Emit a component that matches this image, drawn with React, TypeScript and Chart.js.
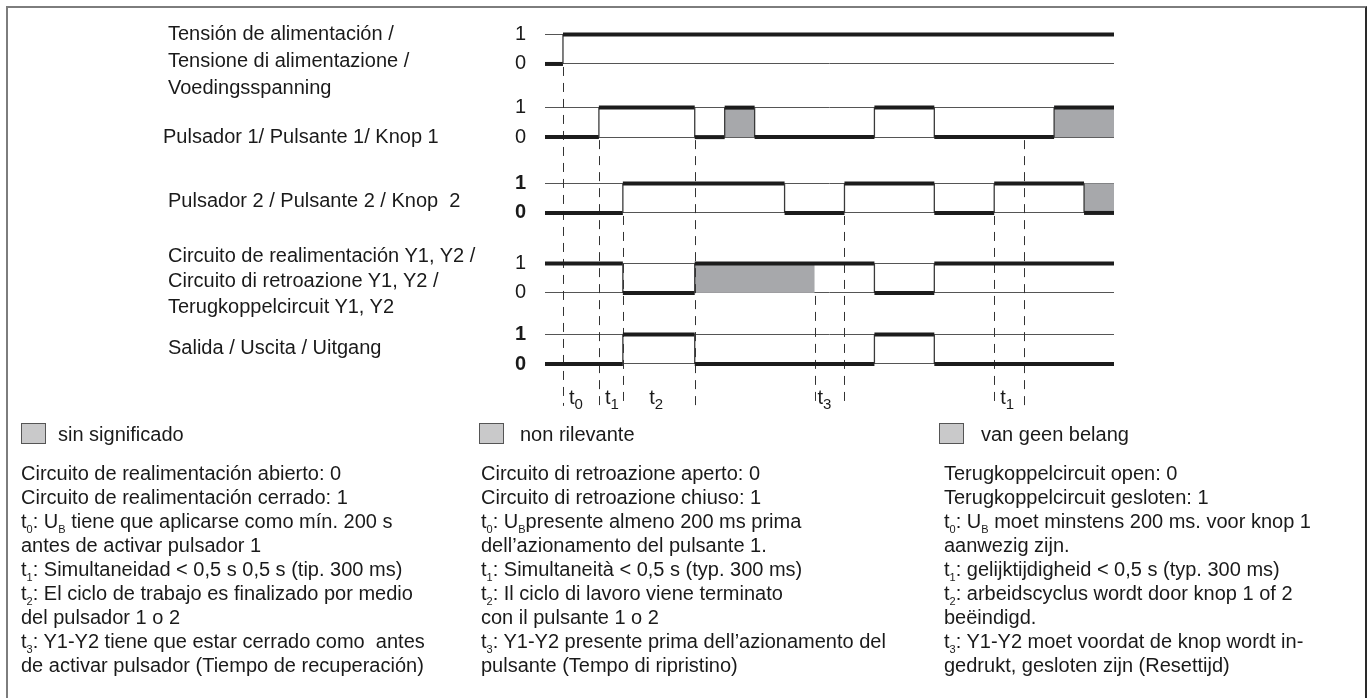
import React, { useEffect, useRef } from "react";
import { Chart, registerables } from "chart.js";

Chart.register(...registerables);

const FONT = '"Liberation Sans", Arial, Helvetica, sans-serif';

// ---- signal data (time in arbitrary units, level per interval) ----
const supplyTimes = [0, 3, 95];
const supplyLevels = [0, 1];
const pulsador1Times = [0, 9, 25, 30, 35, 55, 65, 85, 95];
const pulsador1Levels = [0, 1, 0, 1, 0, 1, 0, 1];
const pulsador2Times = [0, 13, 40, 50, 65, 75, 90, 95];
const pulsador2Levels = [0, 1, 0, 1, 0, 1, 0];
const feedbackTimes = [0, 13, 25, 55, 65, 95];
const feedbackLevels = [1, 0, 1, 0, 1];
const outputTimes = [0, 13, 25, 55, 65, 95];
const outputLevels = [0, 1, 0, 1, 0];

// "don't care" regions (row index, start, end)
const dontCareRows = [1, 1, 2, 3];
const dontCareStart = [30, 85, 90, 25];
const dontCareEnd = [35, 95, 95, 45];

// dashed time markers (time, row whose 0-level they start from)
const markerTimes = [3, 9, 13, 25, 45, 50, 75, 80];
const markerRows = [0, 1, 2, 1, 3, 2, 2, 1];

// interval labels t0..t3
const intervalSubs = ["0", "1", "2", "3", "1"];
const intervalLabelTimes = [4, 10, 17.4, 45.5, 76];

// level tick labels
const levelLabels = ["0", "1"];
const boldRows = [2, 4];

// ---- layout constants ----
const ROW_OFFSETS = [10.17, 7.69, 5.12, 2.41, 0];
const Y_MIN = -1.6;
const Y_MAX = 11.66;
const MARKER_BOTTOM = -1.42;
const LABEL_BASE = -1.36;

const signalLabels: { lines: string[]; left: number; top: number; lh: number }[] = [
  { lines: ["Tensión de alimentación /", "Tensione di alimentazione /", "Voedingsspanning"], left: 168, top: 19.5, lh: 27 },
  { lines: ["Pulsador 1/ Pulsante 1/ Knop 1"], left: 163, top: 122.5, lh: 27 },
  { lines: ["Pulsador 2 / Pulsante 2 / Knop  2"], left: 168, top: 186.5, lh: 27 },
  { lines: ["Circuito de realimentación Y1, Y2 /", "Circuito di retroazione Y1, Y2 /", "Terugkoppelcircuit Y1, Y2"], left: 168, top: 242.5, lh: 25.5 },
  { lines: ["Salida / Uscita / Uitgang"], left: 168, top: 333.5, lh: 27 },
];

const legendTexts = ["sin significado", "non rilevante", "van geen belang"];
const notesEs = [
  "Circuito de realimentación abierto: 0",
  "Circuito de realimentación cerrado: 1",
  "t_{0}: U_{B} tiene que aplicarse como mín. 200 s",
  "antes de activar pulsador 1",
  "t_{1}: Simultaneidad < 0,5 s 0,5 s (tip. 300 ms)",
  "t_{2}: El ciclo de trabajo es finalizado por medio",
  "del pulsador 1 o 2",
  "t_{3}: Y1-Y2 tiene que estar cerrado como  antes",
  "de activar pulsador (Tiempo de recuperación)",
];
const notesIt = [
  "Circuito di retroazione aperto: 0",
  "Circuito di retroazione chiuso: 1",
  "t_{0}: U_{B}presente almeno 200 ms prima",
  "dell’azionamento del pulsante 1.",
  "t_{1}: Simultaneità < 0,5 s (typ. 300 ms)",
  "t_{2}: Il ciclo di lavoro viene terminato",
  "con il pulsante 1 o 2",
  "t_{3}: Y1-Y2 presente prima dell’azionamento del",
  "pulsante (Tempo di ripristino)",
];
const notesNl = [
  "Terugkoppelcircuit open: 0",
  "Terugkoppelcircuit gesloten: 1",
  "t_{0}: U_{B} moet minstens 200 ms. voor knop 1",
  "aanwezig zijn.",
  "t_{1}: gelijktijdigheid < 0,5 s (typ. 300 ms)",
  "t_{2}: arbeidscyclus wordt door knop 1 of 2",
  "beëindigd.",
  "t_{3}: Y1-Y2 moet voordat de knop wordt in-",
  "gedrukt, gesloten zijn (Resettijd)",
];

const columns = [
  { box: 21, legend: 58, notes: 21, lines: notesEs, legendText: legendTexts[0] },
  { box: 479, legend: 520, notes: 481, lines: notesIt, legendText: legendTexts[1] },
  { box: 939, legend: 981, notes: 944, lines: notesNl, legendText: legendTexts[2] },
];

function stepPoints(times: number[], levels: number[], row: number) {
  const pts: { x: number; y: number }[] = [];
  levels.forEach((lv, i) => {
    pts.push({ x: times[i], y: lv + ROW_OFFSETS[row] });
    pts.push({ x: times[i + 1], y: lv + ROW_OFFSETS[row] });
  });
  return pts;
}

function rich(s: string) {
  const parts = s.split(/(_\{[^}]*\})/);
  return parts.map((p, i) =>
    p.startsWith("_{") ? (
      <span key={i} style={{ fontSize: 11, position: "relative", top: 5, lineHeight: 0 }}>
        {p.slice(2, -1)}
      </span>
    ) : (
      <React.Fragment key={i}>{p}</React.Fragment>
    )
  );
}

const diagramPlugin = {
  id: "diagram",
  beforeDatasetsDraw(chart: any) {
    const { ctx } = chart;
    const x = chart.scales.x;
    const y = chart.scales.y;
    ctx.save();
    ctx.fillStyle = "#a7a8ab";
    dontCareRows.forEach((row, i) => {
      const x0 = x.getPixelForValue(dontCareStart[i]);
      const x1 = x.getPixelForValue(dontCareEnd[i]);
      const yTop = y.getPixelForValue(ROW_OFFSETS[row] + 1);
      const yBot = y.getPixelForValue(ROW_OFFSETS[row]);
      ctx.fillRect(x0, yTop, x1 - x0, yBot - yTop);
    });
    ctx.strokeStyle = "#333";
    ctx.lineWidth = 1;
    ctx.setLineDash([9, 7]);
    const yEnd = y.getPixelForValue(MARKER_BOTTOM);
    markerTimes.forEach((t, i) => {
      const px = Math.round(x.getPixelForValue(t)) + 0.5;
      ctx.beginPath();
      ctx.moveTo(px, y.getPixelForValue(ROW_OFFSETS[markerRows[i]]) + 3);
      ctx.lineTo(px, yEnd);
      ctx.stroke();
    });
    ctx.setLineDash([]);
    ctx.fillStyle = "#1a1a1a";
    ctx.textBaseline = "alphabetic";
    ctx.textAlign = "left";
    const base = y.getPixelForValue(LABEL_BASE);
    intervalSubs.forEach((sub, i) => {
      const px = x.getPixelForValue(intervalLabelTimes[i]);
      ctx.font = `20px ${FONT}`;
      ctx.fillText("t", px, base);
      const w = ctx.measureText("t").width;
      ctx.font = `15px ${FONT}`;
      ctx.fillText(sub, px + w, base + 5);
    });
    ctx.restore();
  },
};

export default function App() {
  const canvasRef = useRef<HTMLCanvasElement | null>(null);

  useEffect(() => {
    document.body.style.margin = "0";
    const canvas = canvasRef.current;
    if (!canvas) return;
    const rows = [
      [supplyTimes, supplyLevels],
      [pulsador1Times, pulsador1Levels],
      [pulsador2Times, pulsador2Levels],
      [feedbackTimes, feedbackLevels],
      [outputTimes, outputLevels],
    ];
    const datasets = rows.map(([t, l], r) => ({
      data: stepPoints(t as number[], l as number[], r),
      borderColor: "#1c1c1c",
      borderWidth: 4,
      pointRadius: 0,
      tension: 0,
      fill: false,
      clip: false as any,
      segment: {
        borderWidth: (c: any) => (c.p0.parsed.x === c.p1.parsed.x ? 1.3 : 4),
        borderColor: (c: any) => (c.p0.parsed.x === c.p1.parsed.x ? "#3a3a3a" : "#1c1c1c"),
      },
    }));
    const chart = new Chart(canvas, {
      type: "line",
      data: { datasets: datasets as any },
      plugins: [diagramPlugin as any],
      options: {
        animation: false,
        responsive: false,
        devicePixelRatio: 1,
        events: [],
        layout: { padding: { left: 505, right: 257, top: 20, bottom: 286.8 } },
        plugins: { legend: { display: false }, tooltip: { enabled: false } },
        scales: {
          x: { type: "linear", min: 0, max: 95, display: false },
          y: {
            type: "linear",
            min: Y_MIN,
            max: Y_MAX,
            border: { display: false },
            grid: { color: "#555", lineWidth: 1, drawTicks: false },
            afterBuildTicks: (scale: any) => {
              scale.ticks = ROW_OFFSETS.flatMap((o) => [{ value: o }, { value: o + 1 }]);
            },
            afterFit: (scale: any) => {
              scale.width = 40;
              scale.paddingTop = 0;
              scale.paddingBottom = 0;
            },
            ticks: {
              autoSkip: false,
              padding: 19,
              color: "#1a1a1a",
              callback: (_v: any, i: number) => levelLabels[i % 2],
              font: (c: any) => ({
                family: FONT,
                size: 20,
                weight: boldRows.includes(Math.floor(c.index / 2)) ? "bold" : "normal",
              }),
            },
          },
        },
      },
    });
    return () => chart.destroy();
  }, []);

  return (
    <div
      style={{
        position: "fixed",
        left: 0,
        top: 0,
        width: 1371,
        height: 698,
        overflow: "hidden",
        background: "#fff",
        fontFamily: FONT,
        color: "#1a1a1a",
      }}
    >
      <div
        style={{
          position: "absolute",
          left: 6,
          top: 6,
          width: 1357,
          height: 720,
          borderLeft: "2px solid #7d7d7d",
          borderTop: "2px solid #7d7d7d",
          borderRight: "2px solid #2a2a2a",
          borderBottom: "2px solid #7d7d7d",
        }}
      />
      <canvas ref={canvasRef} width={1371} height={698} style={{ position: "absolute", left: 0, top: 0 }} />
      {signalLabels.map((s, i) => (
        <div
          key={i}
          style={{ position: "absolute", left: s.left, top: s.top, fontSize: 20, lineHeight: `${s.lh}px`, whiteSpace: "pre" }}
        >
          {s.lines.map((l, j) => (
            <div key={j}>{l}</div>
          ))}
        </div>
      ))}
      {columns.map((c, i) => (
        <React.Fragment key={i}>
          <div
            style={{
              position: "absolute",
              left: c.box,
              top: 423,
              width: 25,
              height: 21,
              background: "#c9c9ca",
              border: "1px solid #555",
              boxSizing: "border-box",
            }}
          />
          <div style={{ position: "absolute", left: c.legend, top: 422, fontSize: 20, lineHeight: "24px", whiteSpace: "pre" }}>
            {c.legendText}
          </div>
          <div style={{ position: "absolute", left: c.notes, top: 461, fontSize: 20, lineHeight: "24px", whiteSpace: "pre" }}>
            {c.lines.map((l, j) => (
              <div key={j}>{rich(l)}</div>
            ))}
          </div>
        </React.Fragment>
      ))}
    </div>
  );
}
